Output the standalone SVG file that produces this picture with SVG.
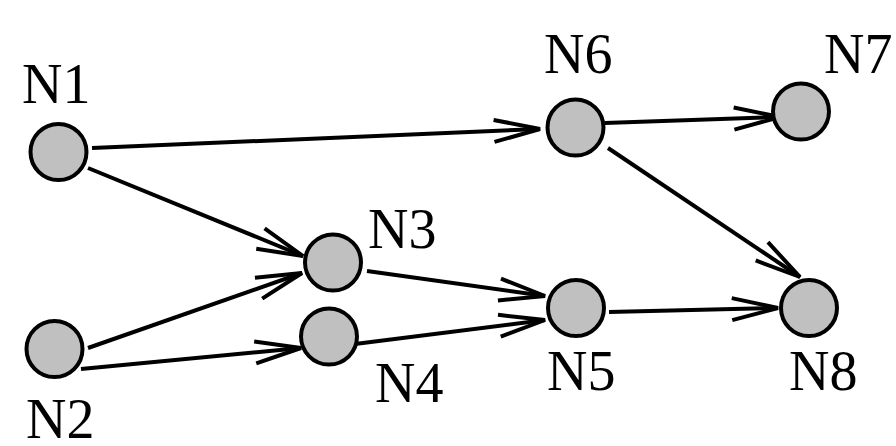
<svg xmlns="http://www.w3.org/2000/svg" width="896" height="446" viewBox="0 0 896 446">
<style>
.node{fill:#c0c0c0;stroke:#000;stroke-width:4}
.lbl{font-family:"Liberation Serif","Times New Roman",serif;font-size:56px;fill:#000}
.edge{stroke:#000;stroke-width:4;fill:none;marker-end:url(#arr)}
</style>
<defs>
<marker id="arr" markerUnits="userSpaceOnUse" viewBox="-50 -16 56 32" markerWidth="56" markerHeight="32" refX="0" refY="0" orient="auto" overflow="visible">
<path d="M-46,-11 L0,0 L-46,11" fill="none" stroke="#000" stroke-width="4"/>
</marker>
</defs>
<rect width="896" height="446" fill="#fff"/>
<g id="edges">
<line class="edge" x1="92" y1="148" x2="540" y2="129"/>
<line class="edge" x1="88" y1="168" x2="303" y2="256"/>
<line class="edge" x1="88" y1="348" x2="302" y2="273"/>
<line class="edge" x1="81" y1="369" x2="301" y2="348"/>
<line class="edge" x1="367" y1="271" x2="545" y2="296"/>
<line class="edge" x1="347" y1="345" x2="545" y2="320"/>
<line class="edge" x1="605" y1="123" x2="780" y2="117"/>
<line class="edge" x1="608" y1="148" x2="800" y2="277"/>
<line class="edge" x1="609" y1="312" x2="778" y2="308"/>
</g>
<g id="N1"><circle class="node" cx="58.5" cy="152" r="28"/><text class="lbl" x="22" y="103">N1</text></g>
<g id="N2"><circle class="node" cx="54.5" cy="349" r="28"/><text class="lbl" x="26" y="438">N2</text></g>
<g id="N3"><circle class="node" cx="333" cy="262.5" r="28"/><text class="lbl" x="368" y="248">N3</text></g>
<g id="N4"><circle class="node" cx="329" cy="336.5" r="28"/><text class="lbl" x="375" y="402">N4</text></g>
<g id="N5"><circle class="node" cx="576" cy="308" r="28"/><text class="lbl" x="547" y="390">N5</text></g>
<g id="N6"><circle class="node" cx="575.5" cy="127.5" r="28"/><text class="lbl" x="544" y="73">N6</text></g>
<g id="N7"><circle class="node" cx="801" cy="111.5" r="28"/><text class="lbl" x="824" y="73">N7</text></g>
<g id="N8"><circle class="node" cx="809" cy="308" r="28"/><text class="lbl" x="789" y="390">N8</text></g>
</svg>
